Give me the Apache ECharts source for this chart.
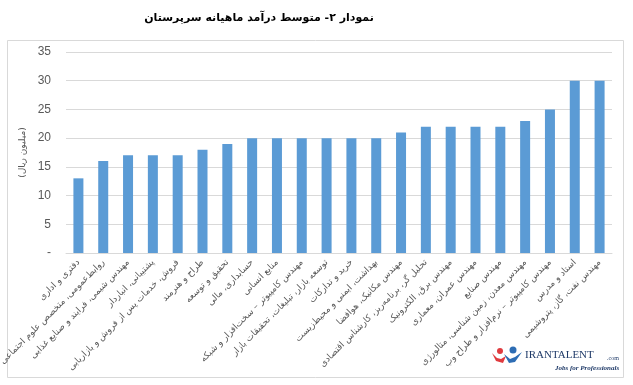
<!DOCTYPE html>
<html>
<head>
<meta charset="utf-8">
<script src="https://cdn.jsdelivr.net/npm/echarts@6/dist/echarts.min.js"></script>
<style>
html,body{margin:0;padding:0;background:#fff;}
#chart{width:633px;height:385px;}
</style>
</head>
<body>
<div id="chart"></div>
<script>
var titleText = 'نمودار ۲- متوسط درآمد ماهیانه سرپرستان';
var yAxisTitle = '(میلیون ریال)';
var categories = [
  'دفتری و اداری',
  'روابط\u200cعمومی، متخصص علوم اجتماعی',
  'مهندس شیمی، فرایند و صنایع غذایی',
  'پشتیبانی، انباردار',
  'فروش، خدمات پس از فروش و بازاریابی',
  'طراح و هنرمند',
  'تحقیق و توسعه',
  'حسابداری، مالی',
  'منابع انسانی',
  'مهندس کامپیوتر – سخت\u200cافزار و شبکه',
  'توسعه بازار، تبلیغات، تحقیقات بازار',
  'خرید و تدارکات',
  'بهداشت، ایمنی و محیط\u200cزیست',
  'مهندس مکانیک، هوافضا',
  'تحلیل گر، برنامه\u200cریز، کارشناس اقتصادی',
  'مهندس برق، الکترونیک',
  'مهندس عمران، معماری',
  'مهندس صنایع',
  'مهندس معدن، زمین شناسی، متالورژی',
  'مهندس کامپیوتر – نرم\u200cافزار و طراح وب',
  'استاد و مدرس',
  'مهندس نفت، گاز، پتروشیمی'
];
var values = [13, 16, 17, 17, 17, 18, 19, 20, 20, 20, 20, 20, 20, 21, 22, 22, 22, 22, 23, 25, 30, 30];
var yTicks = [0, 5, 10, 15, 20, 25, 30, 35];

var faFont = '"DejaVu Sans", sans-serif';
var chart = echarts.init(document.getElementById('chart'), null, {renderer: 'canvas'});
chart.setOption({
  animation: false,
  backgroundColor: '#ffffff',
  grid: {left: 66, right: 21, top: 52, bottom: 132, containLabel: false, outerBoundsMode: 'none'},
  xAxis: {
    type: 'category',
    data: categories,
    axisLine: {show: true, lineStyle: {color: '#D9D9D9', width: 1}},
    axisTick: {show: false},
    axisLabel: {
      interval: 0,
      rotate: 45,
      margin: 8,
      fontFamily: faFont,
      fontSize: 9,
      color: '#595959'
    }
  },
  yAxis: {
    type: 'value',
    min: yTicks[0],
    max: yTicks[yTicks.length - 1],
    interval: 5,
    name: yAxisTitle,
    nameLocation: 'middle',
    nameRotate: 90,
    nameGap: 37,
    nameTextStyle: {fontFamily: faFont, fontSize: 9, color: '#595959'},
    axisLine: {show: false},
    axisTick: {show: false},
    axisLabel: {
      margin: 15,
      fontFamily: '"Liberation Sans", Arial, sans-serif',
      fontSize: 12,
      color: '#595959',
      formatter: function (v) { return v === 0 ? '-' : String(v); }
    },
    splitLine: {show: true, lineStyle: {color: '#D9D9D9', width: 1}}
  },
  series: [{
    type: 'bar',
    data: values,
    barWidth: 10,
    itemStyle: {color: '#5B9BD5'}
  }],
  graphic: [
    {type: 'text', x: 259, y: 18, style: {text: titleText, font: 'bold 11px "DejaVu Sans", sans-serif', fill: '#000000', textAlign: 'center', textVerticalAlign: 'middle'}},
    {type: 'rect', shape: {x: 7.5, y: 40.5, width: 616, height: 337}, style: {fill: 'none', stroke: '#D9D9D9', lineWidth: 1}, silent: true, z: -1},
    {type: 'circle', shape: {cx: 500, cy: 351, r: 3}, style: {fill: '#E03A3E'}},
    {type: 'polygon', shape: {points: [[492, 353], [496, 361], [503, 363], [506, 356], [501, 359], [497, 358]]}, style: {fill: '#E03A3E'}},
    {type: 'circle', shape: {cx: 513, cy: 350, r: 3.5}, style: {fill: '#2E6DB4'}},
    {type: 'polygon', shape: {points: [[504, 354], [509, 363], [515, 362], [522, 352], [515, 357], [510, 359]]}, style: {fill: '#2E6DB4'}},
    {type: 'text', x: 525, y: 355, style: {text: 'IRANTALENT', font: '11px "Liberation Serif", serif', fill: '#1F3A68', textVerticalAlign: 'middle'}},
    {type: 'text', x: 607, y: 358, style: {text: '.com', font: '6px "Liberation Serif", serif', fill: '#1F3A68', textVerticalAlign: 'middle'}},
    {type: 'text', x: 555, y: 368, style: {text: 'Jobs for Professionals', font: 'italic bold 7px "Liberation Serif", serif', fill: '#1F3A68', textVerticalAlign: 'middle'}}
  ]
});
</script>
</body>
</html>
